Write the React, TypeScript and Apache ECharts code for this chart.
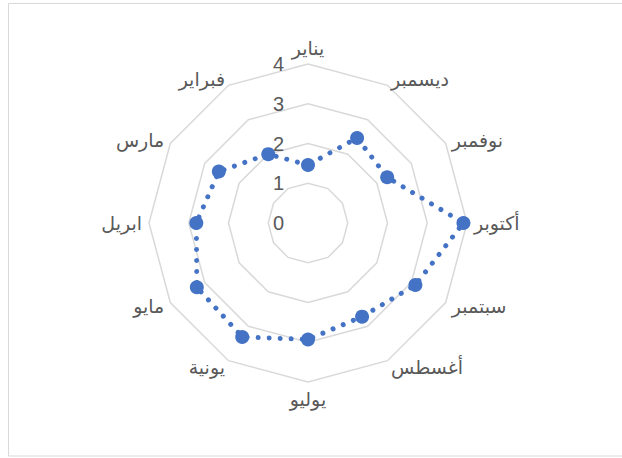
import React, { useEffect, useRef } from "react";
import * as echarts from "echarts";

const months = ["يناير", "فبراير", "مارس", "ابريل", "مايو", "يونية", "يوليو", "أغسطس", "سبتمبر", "أكتوبر", "نوفمبر", "ديسمبر"];
const values = [1.46, 2.0, 2.59, 2.81, 3.23, 3.31, 2.93, 2.72, 3.12, 3.91, 2.3, 2.47];
const axisMax = 4;
const tickStep = 1;

export default function App() {
  const ref = useRef<HTMLDivElement>(null);
  useEffect(() => {
    if (!ref.current) return;
    const chart = echarts.init(ref.current, null, { renderer: "svg" });
    const center = [308, 223];
    const radius = 159;
    chart.setOption({
      animation: false,
      backgroundColor: "#ffffff",
      graphic: [
        {
          type: "rect",
          shape: { x: 8.5, y: 3.5, width: 620, height: 452.5 },
          style: { fill: "none", stroke: "#d9d9d9", lineWidth: 1 },
          silent: true,
        },
      ],
      radar: {
        center,
        radius,
        startAngle: 90,
        splitNumber: axisMax / tickStep,
        shape: "polygon",
        indicator: months.map((m) => ({ name: m, min: 0, max: axisMax })),
        axisName: {
          color: "#595959",
          fontSize: 19,
          fontFamily: "DejaVu Sans, sans-serif",
        },
        nameGap: 7,
        axisLine: { show: false },
        axisTick: { show: false },
        axisLabel: { show: false },
        splitArea: { show: false },
        splitLine: { lineStyle: { color: "#d9d9d9", width: 1.5 } },
      },
      polar: { center, radius },
      angleAxis: {
        show: false,
        startAngle: 90,
        min: 0,
        max: 360,
      },
      radiusAxis: {
        min: 0,
        max: axisMax,
        interval: tickStep,
        axisLine: { show: false },
        axisTick: { show: false },
        splitLine: { show: false },
        axisLabel: {
          show: true,
          fontSize: 20,
          color: "#595959",
          fontFamily: "Liberation Sans, Arial, sans-serif",
          margin: 24,
        },
      },
      series: [
        {
          type: "radar",
          data: [{ value: values }],
          symbol: "circle",
          symbolSize: 14,
          itemStyle: { color: "#4472C4" },
          lineStyle: {
            color: "#4472C4",
            width: 5,
            type: [0.01, 11],
            cap: "round",
          },
        },
      ],
    });
    return () => chart.dispose();
  }, []);
  return (
    <div
      ref={ref}
      style={{ position: "fixed", left: 0, top: 0, width: 622, height: 458 }}
    />
  );
}
